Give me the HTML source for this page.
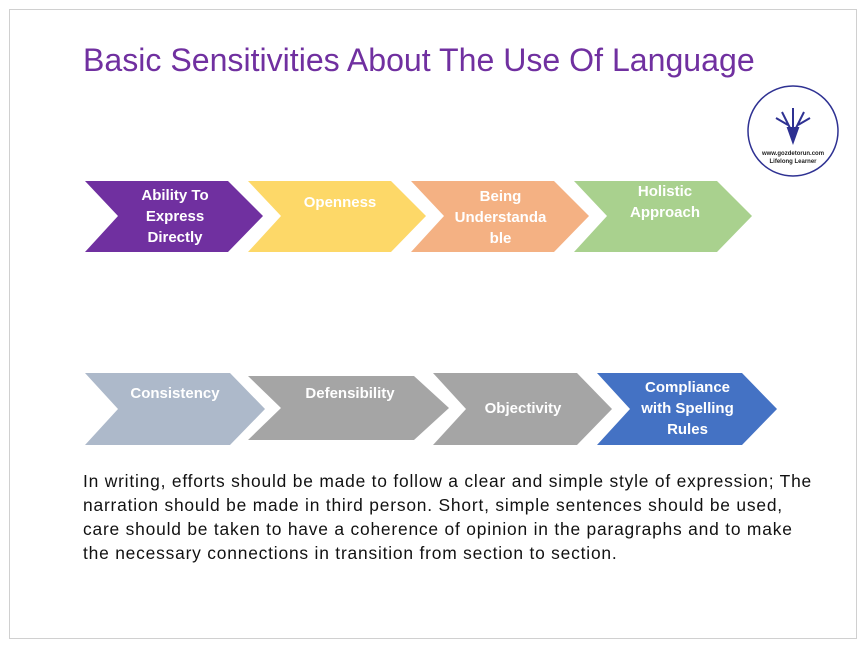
<!DOCTYPE html>
<html><head><style>
body{margin:0;width:865px;height:652px;background:#fff;position:relative;overflow:hidden;font-family:"Liberation Sans",sans-serif}
.frame{position:absolute;left:9px;top:9px;width:846px;height:628px;border:1px solid #d0d0d0}
.t{position:absolute;color:#fff;font-weight:bold;font-size:15px;text-align:center;line-height:21px}
</style></head><body>
<div class="frame"></div>
<div style="position:absolute;left:83px;top:42px;font-size:32.1px;color:#7030A0;white-space:nowrap">Basic Sensitivities About The Use Of Language</div>
<svg width="865" height="652" style="position:absolute;left:0;top:0">
<g>
<polygon points="85,181 228,181 263,216 228,252 85,252 118,216" fill="#7030A0"/>
<polygon points="248,181 391,181 426,216 391,252 248,252 281,216" fill="#FDD868"/>
<polygon points="411,181 554,181 589,216 554,252 411,252 444,216" fill="#F4B183"/>
<polygon points="574,181 717,181 752,216 717,252 574,252 607,216" fill="#A9D18E"/>
<polygon points="85,373 230,373 265,409 230,445 85,445 118,409" fill="#ADB9CA"/>
<polygon points="248,376 414,376 449,408 414,440 248,440 281,408" fill="#A5A5A5"/>
<polygon points="433,373 577,373 612,409 577,445 433,445 466,409" fill="#A5A5A5"/>
<polygon points="597,373 742,373 777,409 742,445 597,445 630,409" fill="#4472C4"/>
</g>
<circle cx="793" cy="131" r="45" fill="#fff" stroke="#2E3192" stroke-width="1.5"/>
<g stroke="#2E3192" stroke-width="2" fill="none">
<path d="M793 142 L788 128 L798 128 Z" fill="#2E3192"/>
<path d="M790 128 L782 112 M796 128 L804 112 M793 128 L793 108 M788 125 L776 118 M798 125 L810 118"/>
</g>
<text x="793" y="155" font-size="6" font-weight="bold" text-anchor="middle" fill="#222">www.gozdetorun.com</text>
<text x="793" y="163" font-size="6" font-weight="bold" text-anchor="middle" fill="#222">Lifelong Learner</text>
</svg>
<div class="t" style="left:125px;top:185px;width:100px">Ability To Express Directly</div>
<div class="t" style="left:285px;top:192px;width:110px">Openness</div>
<div class="t" style="left:448px;top:186px;width:105px">Being Understanda ble</div>
<div class="t" style="left:610px;top:181px;width:110px">Holistic Approach</div>
<div class="t" style="left:120px;top:383px;width:110px">Consistency</div>
<div class="t" style="left:290px;top:383px;width:120px">Defensibility</div>
<div class="t" style="left:468px;top:398px;width:110px">Objectivity</div>
<div class="t" style="left:630px;top:377px;width:115px">Compliance with Spelling Rules</div>
<div style="position:absolute;left:83px;top:469px;font-size:17.4px;line-height:24px;letter-spacing:0.8px;color:#111;white-space:nowrap">In writing, efforts should be made to follow a clear and simple style of expression; The<br>narration should be made in third person. Short, simple sentences should be used,<br>care should be taken to have a coherence of opinion in the paragraphs and to make<br>the necessary connections in transition from section to section.</div>
</body></html>
